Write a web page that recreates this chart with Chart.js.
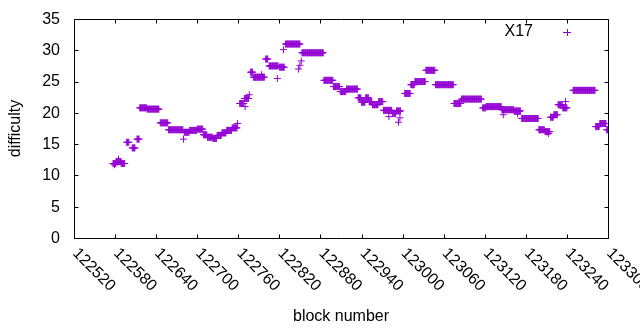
<!DOCTYPE html>
<html lang="en">

<head>
    <meta charset="UTF-8" />
    <script src="https://cdn.jsdelivr.net/npm/chart.js"></script>
    <title>difficulty</title>
    <style>
        html, body { margin: 0; background: #fff; }
        #wrap { width: 640px; height: 330px; }
    </style>
</head>

<body>
    <div id="wrap"><canvas id="plot"></canvas></div>
</body>

</html>

<script>
    // plateaus of difficulty: first block, last block, value
    const runStart = [122577, 122582, 122589, 122597, 122605, 122612, 122616, 122627, 122646, 122658,
        122681, 122689, 122700, 122709, 122715, 122723, 122729, 122736, 122743, 122751,
        122762, 122769, 122778, 122782, 122800, 122805, 122820, 122829, 122853, 122885,
        122899, 122909, 122918, 122935, 122940, 122946, 122951, 122956, 122965, 122972,
        122985, 122991, 123003, 123012, 123018, 123034, 123048, 123075, 123086, 123117,
        123122, 123145, 123163, 123174, 123199, 123208, 123216, 123221, 123227, 123234,
        123249, 123282, 123288, 123298];
    const runEnd = [122581, 122588, 122594, 122600, 122609, 122615, 122626, 122644, 122657, 122679,
        122688, 122699, 122708, 122714, 122722, 122728, 122735, 122742, 122750, 122758,
        122768, 122775, 122781, 122798, 122803, 122818, 122827, 122850, 122884, 122898,
        122908, 122917, 122934, 122939, 122945, 122950, 122955, 122964, 122971, 122984,
        122990, 122997, 123011, 123017, 123033, 123047, 123074, 123085, 123115, 123121,
        123144, 123162, 123172, 123198, 123207, 123215, 123220, 123226, 123233, 123240,
        123281, 123287, 123297, 123300];
    const runLevel = [11.9, 12.2, 11.9, 15.3, 14.4, 15.8, 20.8, 20.6, 18.4, 17.3,
        16.9, 17.2, 17.4, 16.5, 16.1, 15.9, 16.4, 16.8, 17.2, 17.6,
        21.5, 22.3, 26.5, 25.7, 28.6, 27.5, 27.3, 31.0, 29.6, 25.2,
        24.2, 23.4, 23.8, 22.4, 21.7, 22.4, 21.8, 21.3, 21.8, 20.4,
        19.9, 20.3, 23.1, 24.5, 25.0, 26.8, 24.5, 21.5, 22.2, 20.8,
        21.0, 20.5, 20.3, 19.1, 17.3, 17.0, 19.3, 19.7, 21.3, 20.8,
        23.6, 17.8, 18.3, 17.3];

    // single stray blocks
    const spotBlock = [122579, 122585, 122680, 122759, 122770, 122776, 122794, 122817, 122826, 122848,
        122850, 122852, 122980, 122994, 122996, 123147, 123168, 123213, 123238];
    const spotLevel = [11.7, 12.6, 15.8, 18.3, 21.0, 22.9, 26.1, 25.5, 30.1, 27.0,
        27.6, 28.3, 19.4, 18.5, 19.2, 19.7, 19.8, 16.7, 21.8];

    const xMin = 122520, xMax = 123300, xStep = 60;
    const yMin = 0, yMax = 35, yStep = 5;

    const points = [];
    for (let i = 0; i < runStart.length; i++) {
        for (let b = runStart[i]; b <= runEnd[i]; b++) {
            points.push({ x: b, y: runLevel[i] });
        }
    }
    for (let i = 0; i < spotBlock.length; i++) {
        points.push({ x: spotBlock[i], y: spotLevel[i] });
    }

    const purple = 'rgb(148, 0, 211)';
    const fontFace = '"Liberation Sans", Arial, sans-serif';
    const fontSize = 16;

    // gnuplot-like frame: box, inward ticks, tick labels, key
    const framePlugin = {
        id: 'frame',
        afterDraw(chart) {
            const ctx = chart.ctx;
            const a = chart.chartArea;
            const x = chart.scales.x;
            const y = chart.scales.y;
            const L = Math.round(a.left) + 0.5, R = Math.round(a.right) + 0.5;
            const T = Math.round(a.top) + 0.5, B = Math.round(a.bottom) + 0.5;
            const tl = 4;

            ctx.save();
            ctx.strokeStyle = '#000';
            ctx.lineWidth = 1;
            ctx.beginPath();
            ctx.rect(L, T, R - L, B - T);
            x.ticks.forEach(t => {
                const px = Math.round(x.getPixelForValue(t.value)) + 0.5;
                ctx.moveTo(px, B); ctx.lineTo(px, B - tl);
                ctx.moveTo(px, T); ctx.lineTo(px, T + tl);
            });
            y.ticks.forEach(t => {
                const py = Math.round(y.getPixelForValue(t.value)) + 0.5;
                ctx.moveTo(L, py); ctx.lineTo(L + tl, py);
                ctx.moveTo(R, py); ctx.lineTo(R - tl, py);
            });
            ctx.stroke();

            ctx.fillStyle = '#000';
            ctx.font = fontSize + 'px ' + fontFace;
            ctx.textBaseline = 'middle';

            ctx.textAlign = 'right';
            y.ticks.forEach(t => {
                ctx.fillText(String(t.value), a.left - 14, y.getPixelForValue(t.value) + 0.5);
            });

            ctx.textAlign = 'left';
            x.ticks.forEach(t => {
                const px = x.getPixelForValue(t.value);
                ctx.save();
                ctx.translate(px + 1, a.bottom + 13);
                ctx.rotate(Math.PI / 4);
                ctx.fillText(String(t.value), 0, 0);
                ctx.restore();
            });

            // key
            ctx.textAlign = 'right';
            ctx.fillText(chart.data.datasets[0].label, a.right - 75, a.top + 13);
            ctx.strokeStyle = purple;
            ctx.beginPath();
            ctx.moveTo(a.right - 45, a.top + 13.5); ctx.lineTo(a.right - 37, a.top + 13.5);
            ctx.moveTo(a.right - 40.5, a.top + 10); ctx.lineTo(a.right - 40.5, a.top + 17);
            ctx.stroke();
            ctx.restore();
        }
    };

    new Chart(document.getElementById('plot'), {
        type: 'scatter',
        data: {
            datasets: [{
                label: 'X17',
                data: points,
                pointStyle: 'cross',
                pointRadius: 3.5,
                pointBorderWidth: 1,
                borderColor: purple,
                backgroundColor: purple
            }]
        },
        options: {
            responsive: true,
            maintainAspectRatio: false,
            animation: false,
            layout: { padding: { top: 19, right: 32, left: 0, bottom: 0 } },
            plugins: {
                legend: { display: false },
                tooltip: { enabled: false }
            },
            scales: {
                x: {
                    type: 'linear',
                    min: xMin,
                    max: xMax,
                    ticks: { stepSize: xStep, display: false },
                    grid: { display: false, drawTicks: false },
                    border: { display: false },
                    title: {
                        display: true,
                        text: 'block number',
                        color: '#000',
                        font: { family: fontFace, size: fontSize },
                        padding: { top: 0, bottom: 4 }
                    },
                    afterFit: s => { s.height = 92; }
                },
                y: {
                    min: yMin,
                    max: yMax,
                    ticks: { stepSize: yStep, display: false },
                    grid: { display: false, drawTicks: false },
                    border: { display: false },
                    title: {
                        display: true,
                        text: 'difficulty',
                        color: '#000',
                        font: { family: fontFace, size: fontSize },
                        padding: { top: 6, bottom: 0 }
                    },
                    afterFit: s => { s.width = 74; }
                }
            }
        },
        plugins: [framePlugin]
    });
</script>
